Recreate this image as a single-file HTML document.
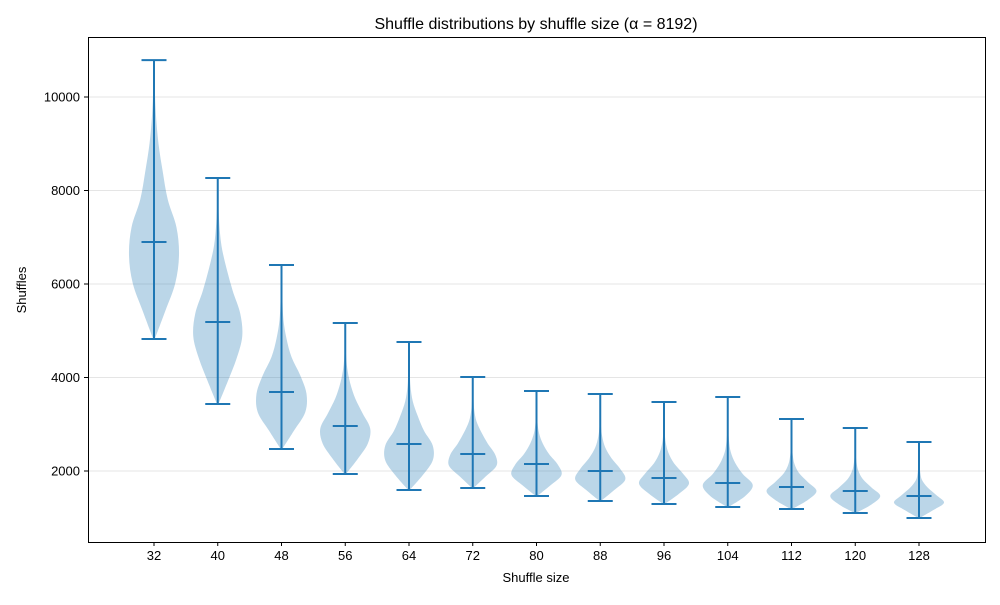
<!DOCTYPE html>
<html><head><meta charset="utf-8"><style>
body{margin:0;background:#fff;font-family:"Liberation Sans","DejaVu Sans",sans-serif}
svg text{font-family:"Liberation Sans","DejaVu Sans",sans-serif;fill:#000}
</style></head><body>
<svg id="chart" width="1000" height="600" xmlns="http://www.w3.org/2000/svg">
<rect width="1000" height="600" fill="#fff"/>
<text x="536" y="29" font-size="16" text-anchor="middle">Shuffle distributions by shuffle size (α = 8192)</text>
<g id="grid"></g><g id="violins"></g>
<rect x="88.5" y="37.5" width="897" height="505" fill="none" stroke="#000" stroke-width="1"/>
<g id="axes"></g>
<text x="536" y="582" font-size="13" text-anchor="middle">Shuffle size</text>
<text transform="translate(26,290) rotate(-90)" font-size="13" text-anchor="middle">Shuffles</text>
</svg>
<script>
const categories=[32,40,48,56,64,72,80,88,96,104,112,120,128];
const maxVals=[10790,8267,6406,5166,4759,4011,3711,3647,3476,3583,3112,2920,2620];
const meanVals=[6898,5187,3690,2963,2578,2364,2150,2000,1850,1743,1658,1572,1465];
const minVals=[4823,3433,2471,1936,1594,1636,1465,1358,1294,1230,1187,1102,995];
const densities=[
[0.03,0.45,0.85,1.0,0.9,0.55,0.35,0.18,0.08,0.03,0.01],
[0.03,0.4,0.75,0.98,0.9,0.6,0.35,0.15,0.06,0.02,0.01],
[0.03,0.5,0.95,1.0,0.75,0.4,0.2,0.08,0.04,0.02,0.01],
[0.03,0.5,0.9,1.0,0.7,0.4,0.2,0.08,0.03,0.02,0.01],
[0.03,0.55,0.95,0.95,0.6,0.35,0.15,0.06,0.03,0.02,0.01],
[0.03,0.5,0.95,0.9,0.6,0.35,0.15,0.06,0.03,0.01,0.01],
[0.03,0.55,1.0,0.85,0.5,0.25,0.1,0.04,0.02,0.01,0.01],
[0.03,0.55,1.0,0.8,0.45,0.2,0.08,0.03,0.02,0.01,0.01],
[0.03,0.6,1.0,0.75,0.4,0.18,0.07,0.03,0.02,0.01,0.01],
[0.03,0.7,1.0,0.6,0.3,0.12,0.05,0.02,0.01,0.01,0.01],
[0.03,0.65,1.0,0.65,0.3,0.12,0.05,0.02,0.01,0.01,0.01],
[0.03,0.65,1.0,0.65,0.3,0.12,0.05,0.02,0.01,0.01,0.01],
[0.03,0.55,1.0,0.7,0.35,0.12,0.05,0.02,0.01,0.01,0.01]];
const yTicks=[2000,4000,6000,8000,10000];
const NS='http://www.w3.org/2000/svg';
function xPos(i){return 154+i*63.75;}
function yPos(v){return 564.5-v*0.04675;}
function mk(t,a,p){const e=document.createElementNS(NS,t);for(const k in a)e.setAttribute(k,a[k]);p.appendChild(e);return e;}
const grid=document.getElementById('grid'),axes=document.getElementById('axes'),vg=document.getElementById('violins');
yTicks.forEach(v=>{
 const y=yPos(v);
 const l=mk('line',{x1:88,x2:985,y1:y,y2:y,stroke:'#e5e5e5','stroke-width':1},grid);
 
 
 mk('line',{x1:84,x2:88,y1:y,y2:y,stroke:'#000'},axes);
 const t=mk('text',{x:80,y:y+4.5,'font-size':13,'text-anchor':'end'},axes);t.textContent=v;
 
 
});
categories.forEach((c,i)=>{
 const x=xPos(i);
 mk('line',{x1:x,x2:x,y1:542,y2:546,stroke:'#000'},axes);
 const t=mk('text',{x:x,y:560,'font-size':13,'text-anchor':'middle'},axes);t.textContent=c;
 
 
 const d=densities[i],n=d.length,lo=minVals[i],hi=maxVals[i];
 const right=[],left=[];
 for(let k=0;k<n;k++){const v=lo+(hi-lo)*k/(n-1);right.push([x+25*d[k],yPos(v)]);left.push([x-25*d[k],yPos(v)]);}
 function cr(pts){let s='';for(let k=0;k<pts.length-1;k++){const p0=pts[Math.max(0,k-1)],p1=pts[k],p2=pts[k+1],p3=pts[Math.min(pts.length-1,k+2)];
  s+=` C${p1[0]+(p2[0]-p0[0])/6},${p1[1]+(p2[1]-p0[1])/6} ${p2[0]-(p3[0]-p1[0])/6},${p2[1]-(p3[1]-p1[1])/6} ${p2[0]},${p2[1]}`;}return s;}
 const lr=left.slice().reverse();
 const path=`M${right[0][0]},${right[0][1]}`+cr(right)+` L${lr[0][0]},${lr[0][1]}`+cr(lr)+'Z';
 const b=mk('path',{d:path,fill:'#1f77b4','fill-opacity':0.3},vg);
 
 
 const g=mk('g',{stroke:'#1f77b4','stroke-width':2},vg);
 
 
 mk('line',{x1:x,x2:x,y1:yPos(hi),y2:yPos(lo)},g);
 [hi,meanVals[i],lo].forEach(v=>mk('line',{x1:x-12.5,x2:x+12.5,y1:yPos(v),y2:yPos(v)},g));
});
</script>
</body></html>
